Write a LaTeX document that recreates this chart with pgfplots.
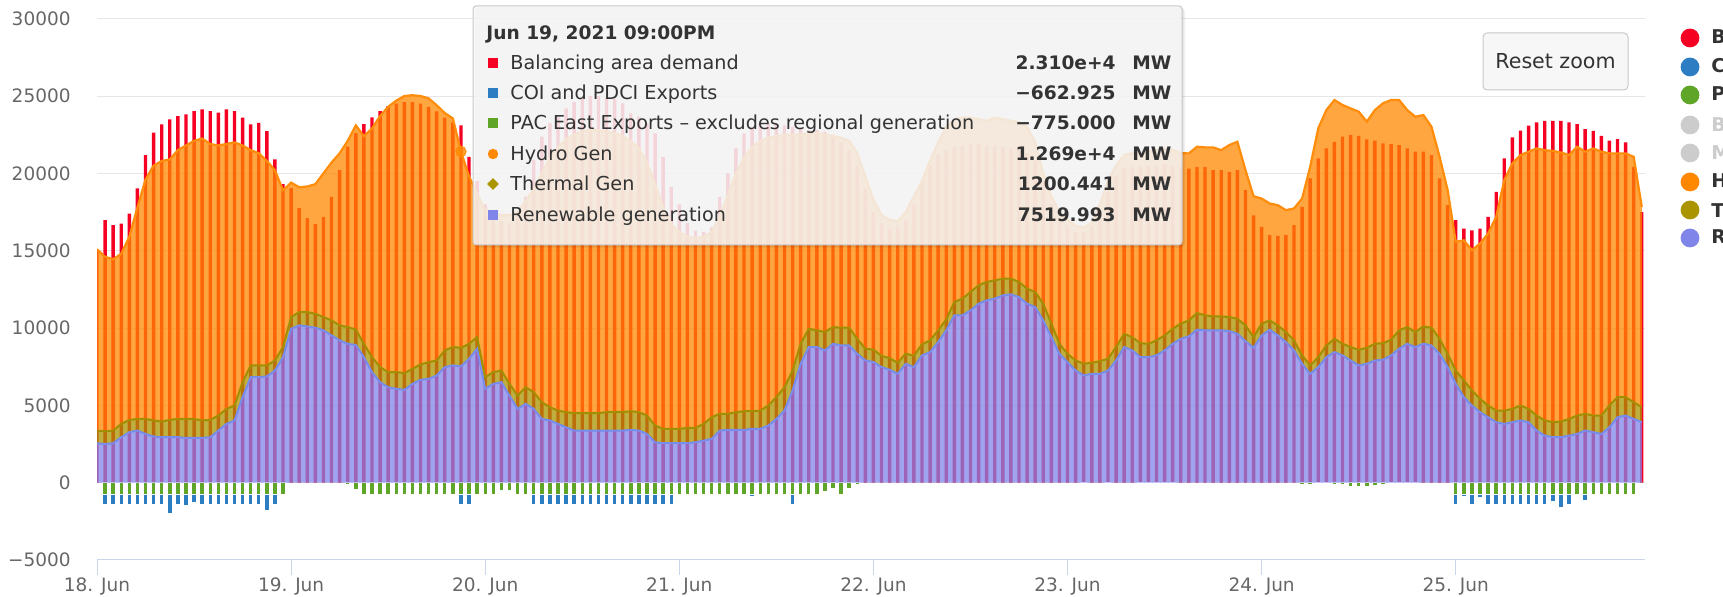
\documentclass[border=0pt]{standalone}
\usepackage{pgfplots}
\pgfplotsset{compat=1.18}
\usepackage{pgfplotstable}
\usepackage{fontspec}
\setmainfont{DejaVu Sans}

\definecolor{demC}{RGB}{245,0,35}
\definecolor{coiC}{RGB}{45,125,195}
\definecolor{pacC}{RGB}{95,165,40}
\definecolor{hydC}{RGB}{255,136,0}
\definecolor{hydL}{RGB}{255,140,10}
\definecolor{theC}{RGB}{170,148,0}
\definecolor{theL}{RGB}{162,142,0}
\definecolor{renC}{RGB}{128,133,233}
\definecolor{renL}{RGB}{120,140,235}
\definecolor{gridC}{RGB}{230,230,230}
\definecolor{axisC}{RGB}{204,214,235}
\definecolor{tickC}{RGB}{102,102,102}
\definecolor{txtC}{RGB}{51,51,51}
\definecolor{tipBg}{RGB}{247,247,247}
\definecolor{tipBd}{RGB}{200,200,200}
\definecolor{greyC}{RGB}{204,204,204}

% hour since 18 Jun 00:00; dem = balancing area demand; coi, pac = exports;
% ren = renewable top; the = thermal top (stacked); hyd = hydro top (stacked)
\pgfplotstableread{
h dem coi pac ren the hyd
0 15000 0 0 2550 3370 15100
1 16970 -650 -775 2500 3320 14600
2 16650 -650 -775 2550 3370 14450
3 16750 -650 -775 2940 3800 14800
4 17400 -650 -775 3260 4060 15900
5 19020 -650 -775 3370 4120 17800
6 21180 -650 -775 3150 4120 19600
7 22630 -650 -775 2980 4020 20500
8 23170 -650 -775 2940 3950 20800
9 23490 -1250 -775 2940 4060 20900
10 23700 -650 -775 2940 4120 21500
11 23810 -750 -775 2890 4120 21800
12 24030 -550 -775 2890 4120 22100
13 24140 -650 -775 2890 4020 22250
14 24030 -650 -775 2940 4060 21900
15 23920 -650 -775 3370 4340 21800
16 24140 -650 -775 3800 4770 21900
17 24030 -650 -775 4020 4990 22000
18 23600 -650 -775 5530 6500 21800
19 23170 -650 -775 6820 7580 21500
20 23270 -650 -775 6820 7580 21300
21 22730 -1050 -775 6870 7580 20800
22 20900 -650 -775 7250 7900 20200
23 19300 0 -775 8120 8770 18900
24 19040 0 0 9950 10710 19400
25 17750 0 0 10170 11030 19100
26 17100 0 0 10100 11030 19150
27 16710 0 0 10020 10920 19300
28 17180 0 0 9850 10710 20000
29 18480 0 0 9520 10490 20700
30 20210 0 0 9200 10170 21300
31 21720 0 -150 8980 10060 22100
32 22600 0 -450 8900 9900 23100
33 23190 0 -775 8120 8980 22400
34 23620 0 -775 7150 8120 22900
35 24030 0 -775 6500 7470 23700
36 24350 0 -775 6170 7150 24300
37 24500 0 -775 6070 7150 24700
38 24600 0 -775 6000 7080 25000
39 24600 0 -775 6390 7360 25050
40 24500 0 -775 6650 7640 25000
41 24300 0 -775 6710 7790 24850
42 24000 0 -775 6930 7900 24400
43 23600 0 -775 7470 8550 23900
44 23300 0 -775 7580 8770 23550
45 23100 -663 -775 7520 8720 21410
46 21070 -663 -775 8010 8980 19800
47 19500 0 -775 8660 9410 18700
48 18000 0 -775 6070 6820 17600
49 17300 0 -775 6390 7150 17400
50 16900 0 -500 6500 7250 17300
51 16800 0 -500 5630 6390 17300
52 17200 0 -775 4770 5630 17500
53 18500 0 -775 5100 6170 18200
54 20860 -650 -775 4770 5850 19000
55 22370 -650 -775 4120 5200 20000
56 23230 -650 -775 4020 4880 21000
57 23660 -650 -775 3800 4660 21700
58 24200 -650 -775 3580 4560 22200
59 24600 -650 -775 3370 4490 22500
60 24900 -650 -775 3370 4490 22700
61 25000 -650 -775 3370 4490 22800
62 25000 -650 -775 3370 4490 22800
63 24900 -650 -775 3370 4560 22700
64 24800 -650 -775 3370 4560 22600
65 24530 -650 -775 3370 4560 22400
66 23880 -650 -775 3410 4620 22100
67 23660 -650 -775 3370 4560 21600
68 23230 -650 -775 3150 4340 20700
69 22580 -650 -775 2610 3690 19300
70 21070 -650 -775 2550 3480 17800
71 19130 -650 -775 2550 3480 16700
72 18000 0 -775 2550 3480 16200
73 16800 0 -775 2550 3540 15900
74 16300 0 -775 2610 3540 15800
75 16200 0 -775 2720 3800 15900
76 16500 0 -775 2830 4230 16200
77 18480 0 -775 3370 4450 17200
78 20000 0 -775 3410 4450 18600
79 21610 0 -775 3410 4560 20000
80 22580 0 -775 3410 4620 21000
81 23010 -150 -775 3480 4620 21700
82 23230 0 -775 3480 4660 22100
83 23200 0 -775 3690 4990 22300
84 23200 0 -775 4120 5530 22400
85 23100 0 -775 4660 6170 22500
86 23000 -650 -775 5960 7250 22500
87 22900 0 -775 7690 8980 22500
88 22800 0 -775 8770 9950 22600
89 22800 0 -775 8770 9850 22600
90 22700 0 -600 8550 9740 22500
91 22500 0 -400 8980 10060 22400
92 22000 0 -775 8870 10020 22300
93 21500 0 -400 8870 10020 22100
94 20500 0 -150 8330 9300 21300
95 19000 0 0 7900 8660 19800
96 17500 0 0 7800 8600 18300
97 16800 0 0 7470 8200 17300
98 16400 0 0 7300 8050 17000
99 16500 0 0 7040 7750 16900
100 17000 0 0 7690 8350 17500
101 18000 0 0 7470 8200 18500
102 19500 0 0 8230 8950 19500
103 20500 0 0 8440 9200 20800
104 21200 0 0 9090 9850 22000
105 21500 0 0 9850 10550 23000
106 21700 0 0 10820 11680 23500
107 21800 0 0 10820 11900 23600
108 21900 0 0 11140 12330 23600
109 21900 0 0 11570 12760 23500
110 21800 0 0 11790 12980 23400
111 21800 0 0 11900 13080 23600
112 21700 0 0 12110 13190 23500
113 21600 0 0 12180 13190 23400
114 21500 0 0 12000 12980 23300
115 21300 0 0 11570 12540 23000
116 20800 0 0 11360 12330 22000
117 19500 0 0 10490 11570 20000
118 18000 0 0 9410 10280 18500
119 17000 0 0 8330 8980 17500
120 16500 0 0 7790 8330 17000
121 16200 0 0 7250 7900 16600
122 16200 0 -100 6930 7690 16500
123 16600 0 0 7040 7750 16800
124 17500 0 0 7040 7860 18000
125 18800 0 -100 7250 8010 19500
126 19800 0 0 7900 8770 20500
127 20300 0 0 8770 9630 21200
128 20400 0 0 8550 9400 21300
129 20400 0 -100 8120 9020 21300
130 20500 0 -100 8120 8980 21400
131 20500 0 -100 8230 9200 21500
132 20600 0 -100 8550 9520 21600
133 20500 0 -100 8980 9950 21500
134 20400 0 0 9300 10280 21300
135 20300 0 0 9460 10490 21290
136 20400 0 0 9890 10970 21720
137 20400 0 0 9850 10820 21680
138 20200 0 0 9850 10750 21680
139 20200 0 0 9850 10750 21500
140 20100 0 0 9800 10710 21830
141 20200 0 0 9630 10600 22040
142 18910 0 0 9150 10170 20210
143 17290 0 0 8720 9410 18520
144 16540 0 0 9520 10280 18370
145 16000 0 0 9890 10490 18050
146 15950 0 0 9520 10170 17940
147 16000 0 0 9090 9740 17620
148 16650 0 0 8550 9200 17730
149 17830 0 -150 7690 8230 18370
150 19670 0 -150 7040 7580 20420
151 20960 0 -100 7470 8120 22910
152 21610 0 -100 8120 8870 24090
153 22040 0 -150 8440 9300 24740
154 22370 0 -150 8230 8980 24420
155 22480 0 -250 7900 8770 24200
156 22430 0 -250 7580 8590 23990
157 22190 0 -250 7690 8720 23340
158 22110 0 -200 7900 8980 24090
159 21940 0 -150 7950 9020 24530
160 21890 0 -100 8230 9240 24740
161 21830 0 -100 8660 9850 24740
162 21610 0 -100 8980 10060 24090
163 21400 0 -100 8770 9740 23660
164 21400 0 0 8980 10100 23770
165 21180 0 0 8870 10020 23010
166 19670 0 0 8330 9300 21070
167 17940 0 0 7470 8330 18910
168 16970 -650 -775 6390 7250 15570
169 16430 -150 -775 5530 6610 15670
170 16320 -650 -775 4990 5960 15030
171 16430 -200 -775 4560 5420 15460
172 17190 -650 -775 4230 4990 16110
173 18800 -650 -775 3910 4660 17190
174 20960 -650 -775 3800 4660 19560
175 22320 -650 -775 3910 4770 20640
176 22760 -650 -775 4020 4990 21180
177 23080 -650 -775 3910 4770 21400
178 23300 -650 -775 3370 4340 21610
179 23400 -650 -775 3040 4020 21500
180 23400 -450 -775 2940 3910 21450
181 23400 -850 -775 2940 3950 21350
182 23300 -650 -775 3040 4120 21180
183 23190 -100 -775 3150 4340 21720
184 22860 -400 -775 3370 4450 21400
185 22750 0 -775 3260 4340 21610
186 22430 0 -775 3150 4340 21400
187 22110 0 -775 3580 4990 21290
188 22220 0 -775 4230 5530 21290
189 22000 0 -775 4340 5530 21290
190 20420 0 -775 4120 5200 21070
191 17500 0 0 3910 4880 17830
}\data

\pgfplotsset{base/.style={scale only axis, width=774pt, height=270.65pt,
  at={(48.5pt,18.5pt)}, anchor=south west,
  xmin=0, xmax=191.4, ymin=-5000, ymax=30000}}

\begin{document}
\begin{tikzpicture}[x=1pt,y=1pt]
\path[use as bounding box] (0,0) rectangle (861.5,298.5);

% axis 1: grid, ticks, demand columns
\begin{axis}[base, ybar, bar width=0.42,
  scaled y ticks=false, scaled x ticks=false,
  axis x line*=bottom, axis y line*=left,
  x axis line style={draw=axisC, line width=0.5pt, -},
  y axis line style={draw=none},
  ytick={-5000,0,5000,10000,15000,20000,25000,30000},
  yticklabels={−5000,0,5000,10000,15000,20000,25000,30000},
  ytick style={draw=none},
  ymajorgrids, major grid style={draw=gridC, line width=0.5pt},
  xtick={0,24,48,72,96,120,144,168},
  xticklabels={18. Jun,19. Jun,20. Jun,21. Jun,22. Jun,23. Jun,24. Jun,25. Jun},
  xtick style={draw=axisC, line width=0.5pt},
  tick align=outside, major tick length=7.5pt,
  yticklabel style={font=\fontsize{9.25}{11}\selectfont, text=tickC, anchor=east, inner sep=0pt, xshift=-5.5pt},
  xticklabel style={font=\fontsize{9.25}{11}\selectfont, text=tickC, anchor=base, inner sep=0pt, yshift=-8.35pt},
]
\addplot[fill=demC, draw=none] table[x=h, y=dem]{\data};
\end{axis}

% axis 2: negative export columns
\begin{axis}[base, hide axis, ybar stacked, bar width=0.62]
\addplot[fill=pacC, draw=white, line width=0.8pt] table[x=h, y=pac]{\data};
\addplot[fill=coiC, draw=white, line width=0.8pt] table[x=h, y=coi]{\data};
\end{axis}

% axis 3: stacked generation areas (fills)
\begin{axis}[base, hide axis, stack plots=y]
\addplot[fill=renC, fill opacity=0.75, draw=none] table[x=h, y=ren]{\data} \closedcycle;
\addplot[fill=theC, fill opacity=0.75, draw=none] table[x=h, y expr=\thisrow{the}-\thisrow{ren}]{\data} \closedcycle;
\addplot[fill=hydC, fill opacity=0.75, draw=none] table[x=h, y expr=\thisrow{hyd}-\thisrow{the}]{\data} \closedcycle;
\end{axis}

% axis 4: area outlines and hover marker
\begin{axis}[base, hide axis]
\addplot[renL, line width=1pt] table[x=h, y=ren]{\data};
\addplot[theL, line width=1pt] table[x=h, y=the]{\data};
\addplot[hydL, line width=1.1pt] table[x=h, y=hyd]{\data};
\addplot[hydC, only marks, mark=*, mark size=2.6pt, mark options={fill=hydC, draw=hydC, fill opacity=0.8}] coordinates {(45,21410)};
\end{axis}

% tooltip
\fill[black, opacity=0.05, rounded corners=2pt] (237.5,174.5) rectangle (592.5,294.5);
\fill[black, opacity=0.05, rounded corners=2pt] (238,175.2) rectangle (592,295);
\draw[draw=tipBd, fill=tipBg, fill opacity=0.86, line width=0.5pt, rounded corners=1.5pt] (236.5,176) rectangle (591,295.5);
\begin{scope}[every node/.style={inner sep=0pt, text=txtC}]
\node[anchor=base west, font=\bfseries\fontsize{9.3}{11}\selectfont] at (243,278.75) {Jun 19, 2021 09:00PM};
\fill[demC] (244,264.5) rectangle (249,269.5);
\fill[coiC] (244,249.5) rectangle (249,254.5);
\fill[pacC] (244,234.5) rectangle (249,239.5);
\fill[hydC] (246.5,221.5) circle (2.6);
\fill[theC] (246.5,203.6) -- (249.4,206.5) -- (246.5,209.4) -- (243.6,206.5) -- cycle;
\fill[renC] (244,188.5) rectangle (249,193.5);
\begin{scope}[every node/.append style={font=\fontsize{9.6}{11}\selectfont}]
\node[anchor=base west] at (255,263.75) {Balancing area demand};
\node[anchor=base west] at (255,248.75) {COI and PDCI Exports};
\node[anchor=base west] at (255,233.75) {PAC East Exports – excludes regional generation};
\node[anchor=base west] at (255,218.25) {Hydro Gen};
\node[anchor=base west] at (255,203.25) {Thermal Gen};
\node[anchor=base west] at (255,187.75) {Renewable generation};
\end{scope}
\begin{scope}[every node/.append style={font=\bfseries\fontsize{9.3}{11}\selectfont}]
\node[anchor=base east] at (558,263.75) {2.310e+4};
\node[anchor=base east] at (558,248.75) {−662.925};
\node[anchor=base east] at (558,233.75) {−775.000};
\node[anchor=base east] at (558,218.25) {1.269e+4};
\node[anchor=base east] at (558,203.25) {1200.441};
\node[anchor=base east] at (558,187.75) {7519.993};
\node[anchor=base west] at (566,263.75) {MW};
\node[anchor=base west] at (566,248.75) {MW};
\node[anchor=base west] at (566,233.75) {MW};
\node[anchor=base west] at (566,218.25) {MW};
\node[anchor=base west] at (566,203.25) {MW};
\node[anchor=base west] at (566,187.75) {MW};
\end{scope}
\end{scope}

% reset zoom button
\draw[fill=tipBg, draw=tipBd, line width=0.5pt, rounded corners=2pt] (741.5,253.5) rectangle (814,282);
\node[text=txtC, font=\fontsize{10.3}{12}\selectfont, inner sep=0pt] at (777.75,267.75) {Reset zoom};

% legend (cut off at the right edge, as in the reference)
\foreach \yy/\cc/\tc/\lab in {279.5/demC/txtC/Balancing area demand, 265/coiC/txtC/COI and PDCI Exports, 251/pacC/txtC/PAC East Exports, 236/greyC/greyC/B, 222/greyC/greyC/M, 207.5/hydC/txtC/Hydro Gen, 193.5/theC/txtC/Thermal Gen, 179.5/renC/txtC/Renewable generation}{
  \fill[\cc] (845,\yy) circle (4.7);
  \node[anchor=west, inner sep=0pt, text=\tc, font=\bfseries\fontsize{9.5}{11}\selectfont] at (855.5,\yy) {\lab};
}
\end{tikzpicture}
\end{document}
